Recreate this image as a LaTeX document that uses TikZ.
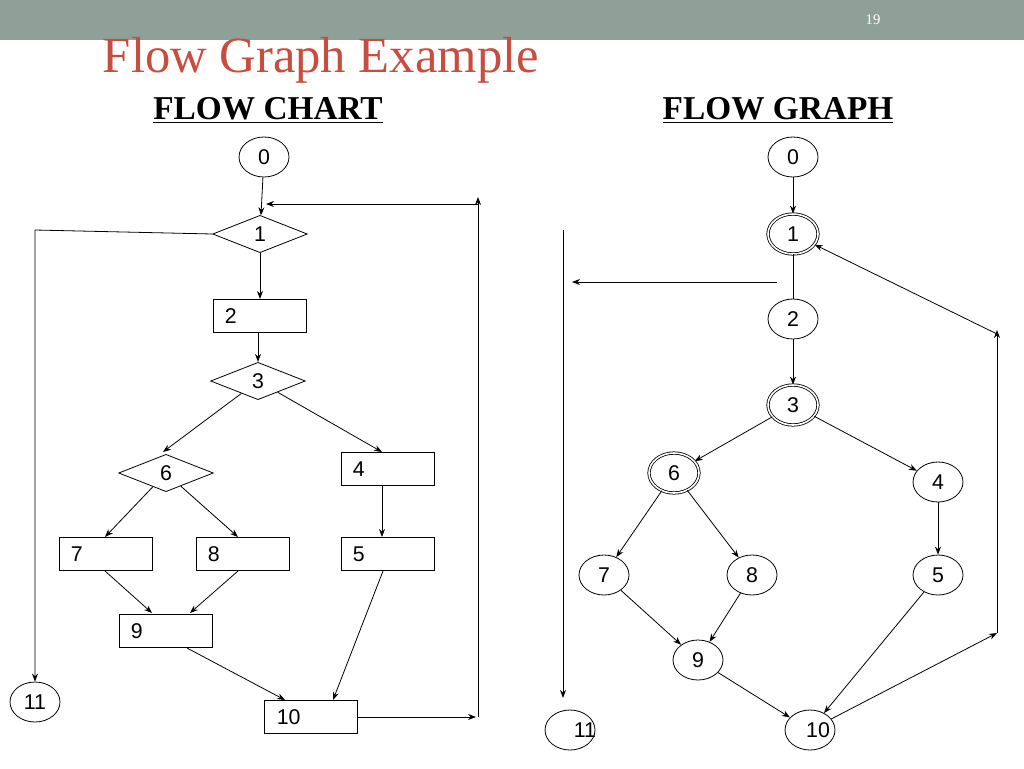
\documentclass[tikz,border=0pt]{standalone}
\usepackage{fontspec}
\setmainfont{Liberation Sans}
\newfontfamily\serif{Liberation Serif}
\usetikzlibrary{shapes.geometric,arrows.meta}
\begin{document}
\begin{tikzpicture}[x=0.75pt,y=-0.75pt,
  every node/.style={font=\fontsize{16}{18}\selectfont},
  circ/.style={draw,ellipse,minimum width=37.5pt,minimum height=30pt,inner sep=0pt},
  dcirc/.style={circ,double,double distance=1.2pt},
  dia/.style={draw,diamond,aspect=2.5,minimum width=71pt,minimum height=28pt,inner sep=0pt},
  rbox/.style={draw,minimum width=70pt,minimum height=25pt,inner sep=0pt},
  lab/.style={anchor=west},
  arr/.style={-{Stealth[length=6pt,width=4.5pt]}},
  line width=0.6pt]
\useasboundingbox (0,0) rectangle (1024,768);
\fill[fill={rgb,255:red,143;green,160;blue,152}] (0,0) rectangle (1024,40);
\node[text=white,font=\serif\fontsize{11}{12}\selectfont] (pg) at (873,20) {19};
\node[anchor=west,text={rgb,255:red,201;green,77;blue,62},font=\serif\fontsize{38}{40}\selectfont] (ttl) at (98,60) {Flow Graph Example};
\node[font=\serif\bfseries\fontsize{25}{27}\selectfont] (h1) at (268,110) {\underline{FLOW CHART}};
\node[font=\serif\bfseries\fontsize{25}{27}\selectfont] (h2) at (778,110) {\underline{FLOW GRAPH}};
% flow chart
\node[circ] (a0) at (264,157) {0};
\node[dia] (a1) at (260,234) {1};
\node[rbox] (a2) at (260,316) {}; \node[lab] (t2) at (220,316) {2};
\node[dia] (a3) at (258,381) {3};
\node[dia] (a6) at (166,473) {6};
\node[rbox] (a4) at (388,469) {}; \node[lab] (t4) at (348,469) {4};
\node[rbox] (a7) at (106,554) {}; \node[lab] (t7) at (66,554) {7};
\node[rbox] (a8) at (243,554) {}; \node[lab] (t8) at (203,554) {8};
\node[rbox] (a5) at (388,554) {}; \node[lab] (t5) at (348,554) {5};
\node[rbox] (a9) at (166,631) {}; \node[lab] (t9) at (126,631) {9};
\node[circ] (a11) at (35,702) {11};
\node[rbox] (a10) at (311,717) {}; \node[lab] (t10) at (272,717) {10};
\draw[arr] (a0) -- (a1);
\draw[arr] (a1.west) -- (35,230) -- (a11.north);
\draw[arr] (a1) -- (a2.north -| a1);
\draw[arr] (a2.south -| a3) -- (a3);
\draw[arr] (a3) -- (163,452);
\draw[arr] (a3) -- (382,452);
\draw[arr] (a6) -- (105,537);
\draw[arr] (a6) -- (238,537);
\draw[arr] (382,486) -- (382,537);
\draw[arr] (105,571) -- (152,613);
\draw[arr] (238,571) -- (190,613);
\draw[arr] (187,648) -- (285,700);
\draw[arr] (383,571) -- (333,700);
\coordinate (r1) at (478,717);
\coordinate (r2) at (478,197);
\draw[arr] (a10.east) -- (476,717);
\draw[arr] (r1) -- (r2);
\draw[arr] (478,204) -- (266,204);
% flow graph
\node[circ] (b0) at (793,157) {0};
\node[dcirc] (b1) at (793,234) {1};
\node[circ] (b2) at (793,319) {2};
\node[dcirc] (b3) at (793,405) {3};
\node[dcirc] (b6) at (674,473) {6};
\node[circ] (b4) at (938,482) {4};
\node[circ] (b7) at (604,575) {7};
\node[circ] (b8) at (752,575) {8};
\node[circ] (b5) at (938,575) {5};
\node[circ] (b9) at (698,660) {9};
\node[circ] (b11) at (570,730) {}; \node (t11) at (585,730) {11};
\node[circ] (b10) at (810,730) {}; \node (t10b) at (818,730) {10};
\draw[arr] (b0) -- (b1);
\draw (b1) -- (b2);
\coordinate (c1) at (777,282); \coordinate (c2) at (572,282);
\draw[arr] (c1) -- (c2);
\coordinate (c3) at (563,230); \coordinate (c4) at (563,698);
\draw[arr] (c3) -- (c4);
\draw[arr] (b2) -- (b3);
\draw[arr] (b3) -- (b6);
\draw[arr] (b3) -- (b4);
\draw[arr] (b6) -- (b7);
\draw[arr] (b6) -- (b8);
\draw[arr] (b4) -- (b5);
\draw[arr] (b7) -- (b9);
\draw[arr] (b8) -- (b9);
\draw[arr] (b9) -- (b10);
\draw[arr] (b5) -- (b10);
\coordinate (d1) at (997,633); \coordinate (d2) at (997,330);
\draw[arr] (b10) -- (d1);
\draw[arr] (d1) -- (d2);
\draw[arr] (997,334) -- (b1);
\end{tikzpicture}
\end{document}
